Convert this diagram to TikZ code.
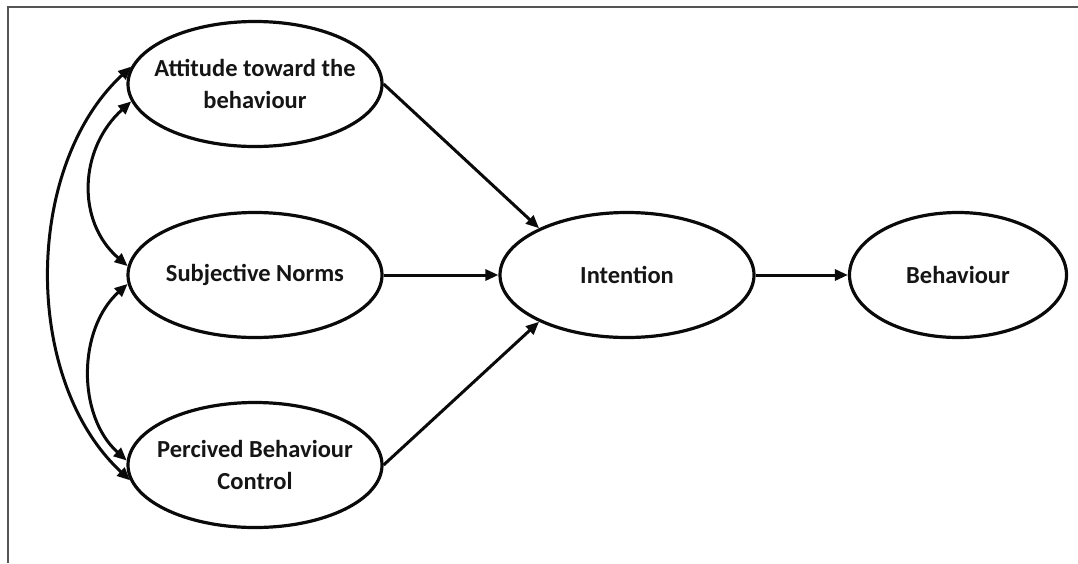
\documentclass[tikz,border=0pt]{standalone}
\usepackage{fontspec}
\setmainfont{Carlito}
\usetikzlibrary{shapes.geometric,arrows.meta}
\definecolor{ink}{HTML}{0A0A0A}
\definecolor{textink}{HTML}{151515}
\definecolor{framegray}{HTML}{555555}
\begin{document}
\begin{tikzpicture}[x=1pt,y=-1pt,
  construct/.style={ellipse, draw=ink, line width=3.2pt, inner xsep=-14pt, inner ysep=0pt,
    minimum width=254pt, minimum height=125pt, align=center,
    text=textink, font=\fontsize{24.5}{32}\selectfont\bfseries},
  link/.style={draw=ink, line width=3pt, -{Triangle[length=13pt,width=11pt]}},
  corr/.style={draw=ink, line width=3pt,
    {Triangle[length=13pt,width=11pt]}-{Triangle[length=13pt,width=11pt]}}]
  \useasboundingbox (0,0) rectangle (1078,563);
  % open frame: top and left rules only
  \draw[framegray, line width=2pt] (1078,7) -- (8,7) -- (8,563);

  % constructs
  \node[construct] (A) at (255,84) {Attitude toward the\\behaviour};
  \node[construct] (S) at (255,275) {Subjective Norms};
  \node[construct] (P) at (255,465) {Percived Behaviour\\Control};
  \node[construct] (I) at (627,275) {Intention};
  \node[construct, minimum width=217pt] (B) at (958,275) {Behaviour};

  % paths to intention and behaviour
  \draw[link] (A.east) -- (I.152);
  \draw[link] (S.east) -- (I.west);
  \draw[link] (P.east) -- (I.208);
  \draw[link] (I.east) -- (B.west);

  % correlations among the antecedents
  \draw[corr] (A.188) .. controls +(-52,47) and +(-52,-45) .. (S.176);
  \draw[corr] (S.184) .. controls +(-50,45) and +(-50,-45) .. (P.178);
  \draw[corr] (A.172) .. controls +(-108,100) and +(-108,-100) .. (P.187);
\end{tikzpicture}
\end{document}
